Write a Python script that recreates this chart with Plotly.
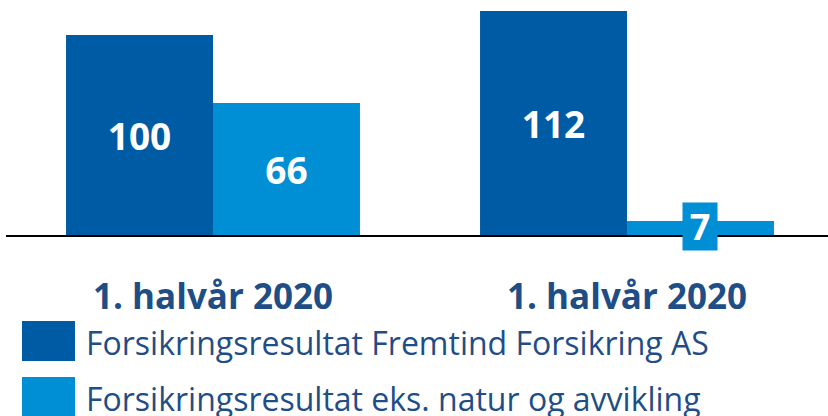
import plotly.graph_objects as go

# Data
categories = ["1. halvår 2020", "1. halvår 2020"]
series_names = ["Forsikringsresultat Fremtind Forsikring AS",
                "Forsikringsresultat eks. natur og avvikling"]
fremtind = [100, 112]
eks_natur = [66, 7]

dark_blue = '#005BA5'
light_blue = '#008FD5'
text_blue = '#1F4E86'
FONT = 'Open Sans'

x_pos = list(range(len(categories)))


def inside_labels(values):
    # small bars get their label as a boxed annotation instead
    return [f'<b>{v}</b>' if v >= 20 else '' for v in values]


fig = go.Figure()

fig.add_trace(go.Bar(
    x=x_pos, y=fremtind,
    name=series_names[0],
    marker=dict(color=dark_blue, line_width=0),
    text=inside_labels(fremtind),
    textposition='inside', insidetextanchor='middle',
    constraintext='none',
    textfont=dict(family=FONT, size=37, color='white'),
    showlegend=False
))

fig.add_trace(go.Bar(
    x=x_pos, y=eks_natur,
    name=series_names[1],
    marker=dict(color=light_blue, line_width=0),
    text=inside_labels(eks_natur),
    textposition='inside', insidetextanchor='middle',
    constraintext='none',
    textfont=dict(family=FONT, size=37, color='white'),
    showlegend=False
))

# boxed label for the small bar(s)
group_frac = 1 - 0.29
bar_w = group_frac / 2
for i, v in enumerate(eks_natur):
    if v < 20:
        fig.add_annotation(
            x=x_pos[i] + bar_w / 2, y=v / 2 + 0.6, xref='x', yref='y',
            text=f'<b>{v}</b>', showarrow=False,
            font=dict(family=FONT, size=36, color='white'),
            bgcolor=light_blue, width=34, height=47, borderpad=0
        )

# legend built from squares + text
legend_rows = [(series_names[0], dark_blue, 321), (series_names[1], light_blue, 377)]
for name, color, top in legend_rows:
    fig.add_shape(type='rect', xref='paper', yref='paper',
                  x0=(22 - 6) / 822, x1=(75 - 6) / 822,
                  y0=(235 - top) / 235, y1=(235 - top - 40) / 235,
                  fillcolor=color, line_width=0)
    fig.add_annotation(xref='paper', yref='paper',
                       x=(84 - 6) / 822, y=(235 - top - 21) / 235,
                       xanchor='left', yanchor='middle',
                       text=name, showarrow=False,
                       font=dict(family=FONT, size=32, color=text_blue))

fig.update_layout(
    barmode='group',
    bargap=0.29,
    bargroupgap=0,
    width=828, height=416,
    margin=dict(l=6, r=0, t=0, b=181),
    paper_bgcolor='white',
    plot_bgcolor='white',
    showlegend=False,
    font=dict(family=FONT)
)

fig.update_xaxes(
    range=[-0.5, -0.5 + 822 / 414],
    tickvals=x_pos,
    ticktext=[f'<b>{c}</b>' for c in categories],
    tickfont=dict(family=FONT, size=35, color=text_blue),
    ticks='', ticklabelstandoff=30,
    showline=True, linecolor='black', linewidth=1.5,
    showgrid=False, zeroline=False
)
fig.update_yaxes(range=[0, 117.5], visible=False, showgrid=False, zeroline=False)

# drop the default page margin so the chart sits at the window's corner
fig.write_html("out.html", config={'displayModeBar': False},
               post_script="document.body.style.margin='0';")
